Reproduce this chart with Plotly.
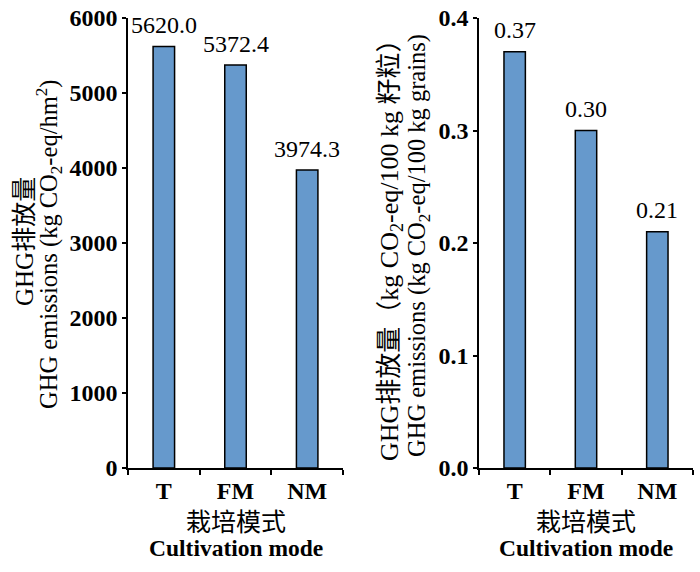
import plotly.graph_objects as go

categories = ["T", "FM", "NM"]
area_emissions = [5620.0, 5372.4, 3974.3]
yield_emissions = [0.37, 0.30, 0.21]
left_ticks = [0, 1000, 2000, 3000, 4000, 5000, 6000]
right_ticks = [0.0, 0.1, 0.2, 0.3, 0.4]

W, H = 700, 572
BAR = "#6699cc"
SERIF = "Liberation Serif, Noto Sans CJK SC"

def px(x):
    return x / W

def py(y):
    return 1 - y / H

fig = go.Figure()
fig.add_trace(go.Bar(x=categories, y=area_emissions, width=0.3,
                     marker=dict(color=BAR, line=dict(color="black", width=1.5)),
                     xaxis="x", yaxis="y", showlegend=False))
fig.add_trace(go.Bar(x=categories, y=yield_emissions, width=0.3,
                     marker=dict(color=BAR, line=dict(color="black", width=1.5)),
                     xaxis="x2", yaxis="y2", showlegend=False))

annotations = []
for c, v in zip(categories, area_emissions):
    annotations.append(dict(x=c, y=v, xref="x", yref="y", text=f"{v:.1f}",
                            showarrow=False, yanchor="bottom", yshift=6,
                            font=dict(family=SERIF, size=24, color="black")))
for c, v in zip(categories, yield_emissions):
    annotations.append(dict(x=c, y=v, xref="x2", yref="y2", text=f"{v:.2f}",
                            showarrow=False, yanchor="bottom", yshift=7,
                            font=dict(family=SERIF, size=24, color="black")))

def title(text, x, y, size=24, angle=None):
    a = dict(text=text, x=px(x), y=py(y), xref="paper", yref="paper",
             showarrow=False, xanchor="center", yanchor="middle",
             font=dict(family=SERIF, size=size, color="black"))
    if angle is not None:
        a["textangle"] = angle
    annotations.append(a)

# y titles
title("GHG排放量", 24, 242, size=25, angle=-90)
title("GHG emissions (kg CO<sub>2</sub>-eq/hm<sup>2</sup>)", 49, 244, size=24.5, angle=-90)
title("GHG排放量（kg CO<sub>2</sub>-eq/100 kg 籽粒）", 391, 244, size=26, angle=-90)
title("GHG emissions (kg CO<sub>2</sub>-eq/100 kg grains)", 419, 246, size=24.5, angle=-90)
# x titles
title("栽培模式", 235.5, 522, size=25)
title("<b>Cultivation mode</b>", 235.5, 548, size=23.5)
title("栽培模式", 586, 522, size=25)
title("<b>Cultivation mode</b>", 586, 548, size=23.5)

xaxis_common = dict(type="category", showline=True, linecolor="black", linewidth=1.5,
                    ticks="outside", tickson="boundaries", ticklen=5, tickwidth=1.5,
                    tickcolor="black", showgrid=False, zeroline=False, automargin=False,
                    ticklabeloverflow="allow",
                    tickfont=dict(family=SERIF, size=24, color="black"),
                    tickvals=categories, ticktext=[f"<b>{c}</b>" for c in categories],
                    range=[-0.5, 2.5])
yaxis_common = dict(showline=True, linecolor="black", linewidth=1.5,
                    ticks="outside", ticklen=4, tickwidth=1.5, tickcolor="black",
                    showgrid=False, zeroline=False, automargin=False,
                    ticklabeloverflow="allow",
                    tickfont=dict(family=SERIF, size=24, color="black"))

fig.update_layout(
    width=W, height=H,
    margin=dict(l=0, r=0, t=0, b=0),
    paper_bgcolor="white", plot_bgcolor="white",
    xaxis=dict(**xaxis_common, domain=[px(128), px(343)], anchor="y"),
    yaxis=dict(**yaxis_common, domain=[py(468), py(18)], anchor="x",
               range=[0, 6000], tickvals=left_ticks,
               ticktext=[f"<b>{t}</b>" for t in left_ticks]),
    xaxis2=dict(**xaxis_common, domain=[px(479), px(693)], anchor="y2"),
    yaxis2=dict(**yaxis_common, domain=[py(468), py(18)], anchor="x2",
                range=[0, 0.4], tickvals=right_ticks,
                ticktext=[f"<b>{t:.1f}</b>" for t in right_ticks]),
    annotations=annotations,
)

fig.write_html("out.html", config={"displayModeBar": False},
               post_script="document.body.style.margin='0';document.body.style.overflow='hidden';")
